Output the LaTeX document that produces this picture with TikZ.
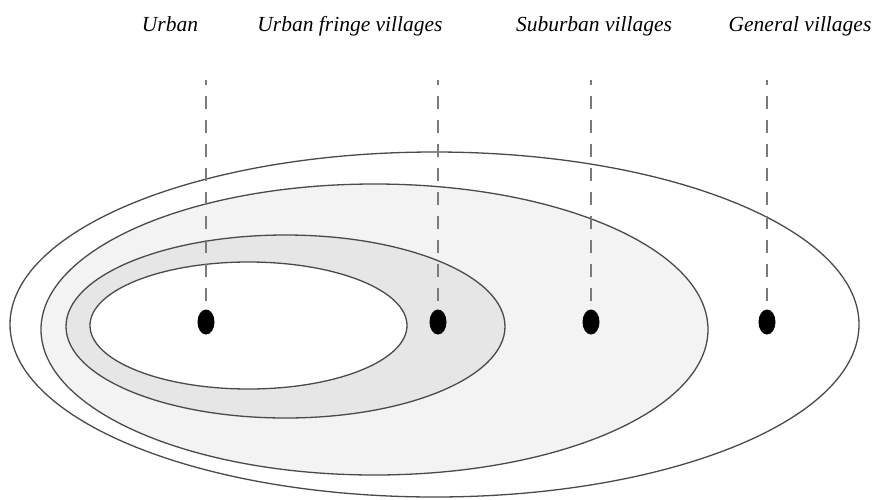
\documentclass[tikz,border=0pt]{standalone}
\usepackage{fontspec}
\setmainfont{Liberation Serif}
\usetikzlibrary{shapes.geometric}
\definecolor{ringA}{HTML}{F3F3F3}
\definecolor{ringB}{HTML}{E6E6E6}
\definecolor{edge}{HTML}{4A4A4A}
\definecolor{dashc}{HTML}{7A7A7A}
\tikzset{
  zone/.style={draw=edge, line width=1.3pt},
  dot/.style={ellipse, fill=black, inner sep=0pt, minimum width=17pt, minimum height=25pt},
  lbl/.style={font=\fontsize{21.5}{24}\selectfont\itshape, anchor=base, inner sep=0pt},
  guide/.style={draw=dashc, line width=1.3pt, dash pattern=on 13pt off 11pt, dash phase=8pt}
}
\begin{document}
\begin{tikzpicture}[x=1pt,y=-1pt]
\useasboundingbox (0,0) rectangle (873,499);
\fill[white] (0,0) rectangle (873,499);
% zones
\draw[zone, fill=white] (434.5,324.5) ellipse [x radius=424.5pt, y radius=172.5pt];
\draw[zone, fill=ringA] (374.5,329.5) ellipse [x radius=333.5pt, y radius=145.5pt];
\draw[zone, fill=ringB] (285.5,326.5) ellipse [x radius=219.5pt, y radius=91.5pt];
\draw[zone, fill=white] (248.5,325.5) ellipse [x radius=158.5pt, y radius=63.5pt];
% dots
\node[dot] (d1) at (206,322) {};
\node[dot] (d2) at (438,322) {};
\node[dot] (d3) at (591,322) {};
\node[dot] (d4) at (767,322) {};
% guide tops
\coordinate (t1) at (206,80);
\coordinate (t2) at (438,80);
\coordinate (t3) at (591,80);
\coordinate (t4) at (767,80);
\foreach \i in {1,2,3,4} \draw[guide] (t\i) -- (d\i.north);
% labels
\node[lbl] (l1) at (170,31) {Urban};
\node[lbl] (l2) at (350,31) {Urban fringe villages};
\node[lbl] (l3) at (594,31) {Suburban villages};
\node[lbl] (l4) at (800,31) {General villages};
\end{tikzpicture}
\end{document}
